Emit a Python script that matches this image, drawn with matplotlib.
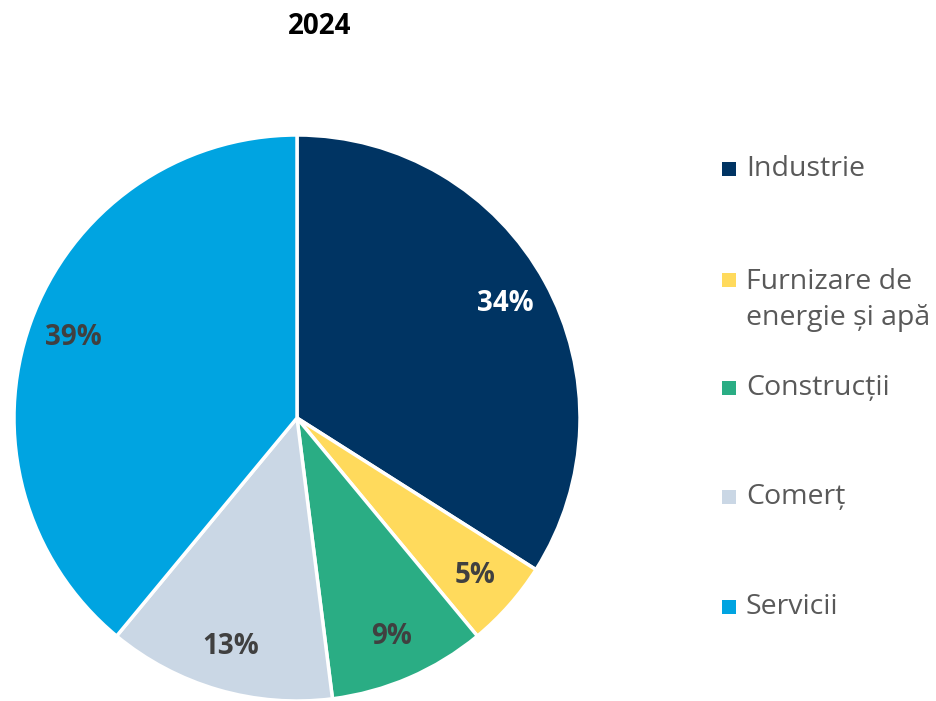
import matplotlib.pyplot as plt
import matplotlib.patches as patches

plt.rcParams['font.family'] = ['Open Sans', 'DejaVu Sans']

# date
categorii = ['Industrie', 'Furnizare de\nenergie și apă', 'Construcții', 'Comerț', 'Servicii']
valori = [34, 5, 9, 13, 39]
culori = ['#003463', '#FFDA5C', '#2AAD84', '#CAD7E5', '#00A4E1']
culori_etichete = ['white', '#404040', '#404040', '#404040', '#404040']
titlu = '2024'

W, H = 937, 701
fig = plt.figure(figsize=(W / 100, H / 100), dpi=100)

# axa pie: centru (297, 418) px, raza 283 px
cx, cy, r = 297, 418, 283
ax = fig.add_axes([(cx - r) / W, (H - cy - r) / H, 2 * r / W, 2 * r / H])
wedges, texts, autotexts = ax.pie(
    valori, colors=culori, startangle=90, counterclock=False, radius=1,
    autopct='%1.0f%%', pctdistance=0.84,
    wedgeprops=dict(edgecolor='white', linewidth=2.5))
for t, c in zip(autotexts, culori_etichete):
    t.set_color(c)
    t.set_fontsize(20)
    t.set_fontweight('bold')
ax.set_xlim(-1, 1)
ax.set_ylim(-1, 1)
ax.set_aspect('equal')
ax.axis('off')

fig.text(320 / W, 1 - 26 / H, titlu, ha='center', va='center',
         fontsize=20, fontweight='bold', color='black')

# legenda
leg_y = [169, 300, 388, 497, 607]
for lab, col, y in zip(categorii, culori, leg_y):
    nl = lab.count('\n') + 1
    y0 = y - (nl - 1) * 20  # centrul primei linii
    sq = 14
    fig.patches.append(patches.Rectangle((722 / W, 1 - (y0 + sq / 2) / H), sq / W, sq / H,
                                         transform=fig.transFigure, facecolor=col,
                                         edgecolor='none'))
    fig.text(746 / W, 1 - y / H, lab, ha='left', va='center', fontsize=20.5,
             color='#595959', linespacing=1.4)

fig.savefig('out.png', dpi=100)
